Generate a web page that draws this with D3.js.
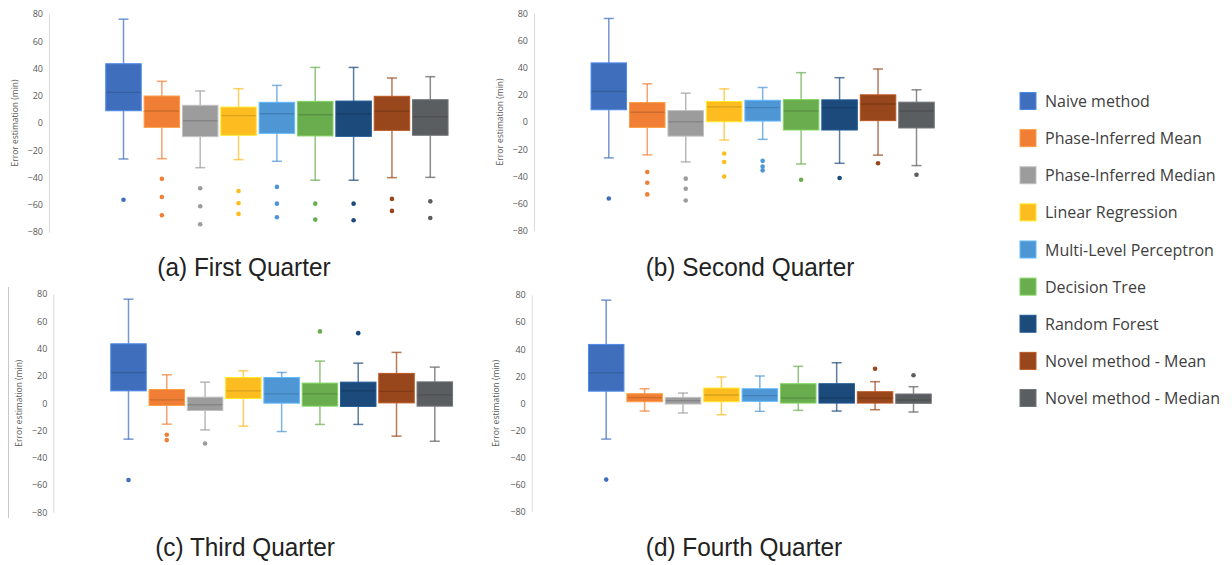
<!DOCTYPE html>
<html>
<head>
<meta charset="utf-8">
<script src="https://cdn.jsdelivr.net/npm/d3@7"></script>
<style>
  html, body { margin: 0; padding: 0; background: #ffffff; }
  svg { display: block; }
</style>
</head>
<body>
<svg id="chart" width="1232" height="565"></svg>
<script>
// ---------------- DATA ----------------
const methods = [
  "Naive method", "Phase-Inferred Mean", "Phase-Inferred Median",
  "Linear Regression", "Multi-Level Perceptron", "Decision Tree",
  "Random Forest", "Novel method - Mean", "Novel method - Median"
];
const methodColors = ["#3f6fbc", "#f07f35", "#9c9c9c", "#fdbd21", "#4f96d4",
                      "#6aad4f", "#1b4a7b", "#98461b", "#5b5e60"];

const yTicks = [80, 60, 40, 20, 0, -20, -40, -60, -80];
const yTitle = "Error estimation (min)";
const quarterTitles = ["(a) First Quarter", "(b) Second Quarter", "(c) Third Quarter", "(d) Fourth Quarter"];

// [whisker low, Q1, median, Q3, whisker high] per method
const firstQuarter = [
  [-26.4, 9, 22.5, 43.5, 76.2],
  [-26.2, -3.2, 8.8, 19.8, 30.6],
  [-32.8, -10, 1.7, 13, 23.5],
  [-26.9, -9, 5.4, 11.7, 25.2],
  [-28.1, -7.6, 6.8, 15.2, 27.6],
  [-42, -9.5, 6.1, 15.9, 40.8],
  [-42, -9.8, 6.8, 16.1, 40.8],
  [-40.1, -5.4, 8.6, 19.6, 33],
  [-39.9, -9, 4.6, 17.1, 34]
];
const firstQuarterOutliers = [
  [-56.3], [-41, -54.3, -67.7], [-47.9, -61.1, -74.3], [-49.9, -58.9, -66.7],
  [-46.9, -59.2, -69.2], [-59.2, -70.9], [-59.2, -71.4], [-55.7, -64.5], [-57.5, -69.7]
];

const secondQuarter = [
  [-26.4, 9, 22.5, 43.5, 76.2],
  [-24.2, -4, 7.2, 14.3, 28.1],
  [-29.4, -10.4, 0.2, 8.4, 21.2],
  [-13.3, 0.2, 11.1, 15.1, 24.4],
  [-12.8, 0.7, 10.6, 16, 25.4],
  [-30.9, -5.9, 8.1, 16.5, 36.3],
  [-30.4, -5.9, 10.6, 16.3, 32.6],
  [-24.4, 1, 13.3, 20, 39],
  [-32.1, -4.4, 8.1, 14.6, 23.7]
];
const secondQuarterOutliers = [
  [-56.3], [-36.8, -44.7, -53.3], [-41.7, -49.1, -57.8], [-23.2, -29.4, -40.2],
  [-28.6, -32.8, -35.6], [-42.5], [-41.2], [-30.4], [-38.8]
];

const thirdQuarter = [
  [-26.4, 9, 22.5, 43.5, 76.2],
  [-15.4, -1.7, 2.4, 10, 20.8],
  [-19.6, -5.4, -1.2, 4.4, 15.4],
  [-16.9, 3.4, 9, 18.8, 23.7],
  [-20.8, 0, 6.8, 18.8, 22.5],
  [-15.6, -2.2, 6.8, 14.7, 30.8],
  [-15.6, -2.4, 9, 15.4, 29.3],
  [-24.2, 0.2, 8.6, 21.8, 37.2],
  [-27.9, -2.2, 6.1, 15.6, 26.4]
];
const thirdQuarterOutliers = [
  [-56.3], [-23.2, -27.1], [-29.6], [], [], [52.6], [51.3], [], []
];

const fourthQuarter = [
  [-26.4, 9, 22.5, 43.5, 76.2],
  [-5.7, 1.2, 4.2, 7.1, 10.8],
  [-7.1, -0.5, 2, 4.4, 7.6],
  [-8.4, 1.2, 6.2, 11.3, 19.5],
  [-5.9, 1.5, 5.7, 10.8, 20.2],
  [-5.2, 0.2, 3.9, 14.5, 27.3],
  [-5.7, 0.2, 3.9, 14.5, 30],
  [-4.7, 0.2, 3.9, 8.6, 16],
  [-6.4, 0, 2.5, 6.9, 12.3]
];
const fourthQuarterOutliers = [
  [-56.3], [], [], [], [], [], [], [25.6], [20.7]
];

// ---------------- LAYOUT ----------------
const panels = [
  { stats: firstQuarter,  outliers: firstQuarterOutliers,  title: quarterTitles[0],
    axisX: 49,    yTop: 14,    yBot: 232,   c0: 123.5, c8: 430.3, labelX: 16,  titleX: 244, titleY: 276 },
  { stats: secondQuarter, outliers: secondQuarterOutliers, title: quarterTitles[1],
    axisX: 534,   yTop: 13.3,  yBot: 230.7, c0: 608.8, c8: 916.5, labelX: 501, titleX: 750, titleY: 276 },
  { stats: thirdQuarter,  outliers: thirdQuarterOutliers,  title: quarterTitles[2],
    axisX: 53.3,  yTop: 294,   yBot: 512.3, c0: 128.5, c8: 434.8, labelX: 20,  titleX: 245, titleY: 556 },
  { stats: fourthQuarter, outliers: fourthQuarterOutliers, title: quarterTitles[3],
    axisX: 531.7, yTop: 295,   yBot: 511.7, c0: 606.2, c8: 913.5, labelX: 497, titleX: 744, titleY: 556 }
];

const svg = d3.select("#chart");
const boxW = 35.5;
const capW = 10;

// faint crop border line visible left of panel (c)
svg.append("line")
  .attr("x1", 8.5).attr("x2", 8.5).attr("y1", 287).attr("y2", 518)
  .attr("stroke", "#c8c8c8").attr("stroke-width", 1);

panels.forEach(p => {
  const y = d3.scaleLinear().domain([-80, 80]).range([p.yBot, p.yTop]);
  const x = d3.scalePoint().domain(methods).range([p.c0, p.c8]);
  const g = svg.append("g");

  // y axis
  const axis = d3.axisLeft(y).tickValues(yTicks).tickSize(0).tickPadding(6);
  const ax = g.append("g").attr("transform", `translate(${p.axisX},0)`).call(axis);
  ax.select(".domain").attr("stroke", "#d9d9d9").attr("stroke-width", 1);
  ax.selectAll("text")
    .attr("fill", "#595959")
    .style("font-family", "'Open Sans', sans-serif")
    .style("font-size", "9px");

  // y title
  g.append("text")
    .attr("transform", `translate(${p.labelX},${(p.yTop + p.yBot) / 2}) rotate(-90)`)
    .attr("text-anchor", "middle")
    .attr("dominant-baseline", "middle")
    .attr("fill", "#595959")
    .style("font-family", "'Open Sans', sans-serif")
    .style("font-size", "8.5px")
    .text(yTitle);

  // boxes
  methods.forEach((m, i) => {
    const s = p.stats[i];
    const col = methodColors[i];
    const cx = x(m);
    const bg = g.append("g");
    const wcol = d3.color(col).copy({opacity: 0.72});
    // whiskers
    bg.append("line").attr("x1", cx).attr("x2", cx).attr("y1", y(s[4])).attr("y2", y(s[3]))
      .attr("stroke", wcol).attr("stroke-width", 1.5);
    bg.append("line").attr("x1", cx).attr("x2", cx).attr("y1", y(s[1])).attr("y2", y(s[0]))
      .attr("stroke", wcol).attr("stroke-width", 1.5);
    bg.append("line").attr("x1", cx - capW / 2).attr("x2", cx + capW / 2).attr("y1", y(s[4])).attr("y2", y(s[4]))
      .attr("stroke", wcol).attr("stroke-width", 1.5);
    bg.append("line").attr("x1", cx - capW / 2).attr("x2", cx + capW / 2).attr("y1", y(s[0])).attr("y2", y(s[0]))
      .attr("stroke", wcol).attr("stroke-width", 1.5);
    // box
    bg.append("rect")
      .attr("x", cx - boxW / 2).attr("width", boxW)
      .attr("y", y(s[3])).attr("height", y(s[1]) - y(s[3]))
      .attr("fill", col)
      .attr("stroke", d3.color(col).brighter(0.6))
      .attr("stroke-width", 1);
    // median
    bg.append("line")
      .attr("x1", cx - boxW / 2 + 0.5).attr("x2", cx + boxW / 2 - 0.5)
      .attr("y1", y(s[2])).attr("y2", y(s[2]))
      .attr("stroke", d3.color(col).darker(0.45)).attr("stroke-width", 1.4);
    // outliers
    bg.selectAll("circle").data(p.outliers[i]).join("circle")
      .attr("cx", cx).attr("cy", d => y(d)).attr("r", 2.3)
      .attr("fill", col);
  });

  // panel title
  g.append("text")
    .attr("transform", `translate(${p.titleX},${p.titleY}) scale(0.92,1)`)
    .attr("text-anchor", "middle")
    .attr("fill", "#222")
    .style("font-family", "'Liberation Sans', Arial, sans-serif")
    .style("font-size", "26.5px")
    .text(p.title);
});

// legend
const legendY = d3.scalePoint().domain(methods).range([101, 398]);
const lg = svg.append("g");
methods.forEach((m, i) => {
  lg.append("rect")
    .attr("x", 1020).attr("y", legendY(m) - 8.5).attr("width", 16).attr("height", 17)
    .attr("fill", methodColors[i])
    .attr("stroke", d3.color(methodColors[i]).brighter(0.6)).attr("stroke-width", 1);
  lg.append("text")
    .attr("x", 1045).attr("y", legendY(m))
    .attr("dominant-baseline", "central")
    .attr("fill", "#404040")
    .style("font-family", "'Open Sans', sans-serif")
    .style("font-size", "16px")
    .text(m);
});
</script>
</body>
</html>
